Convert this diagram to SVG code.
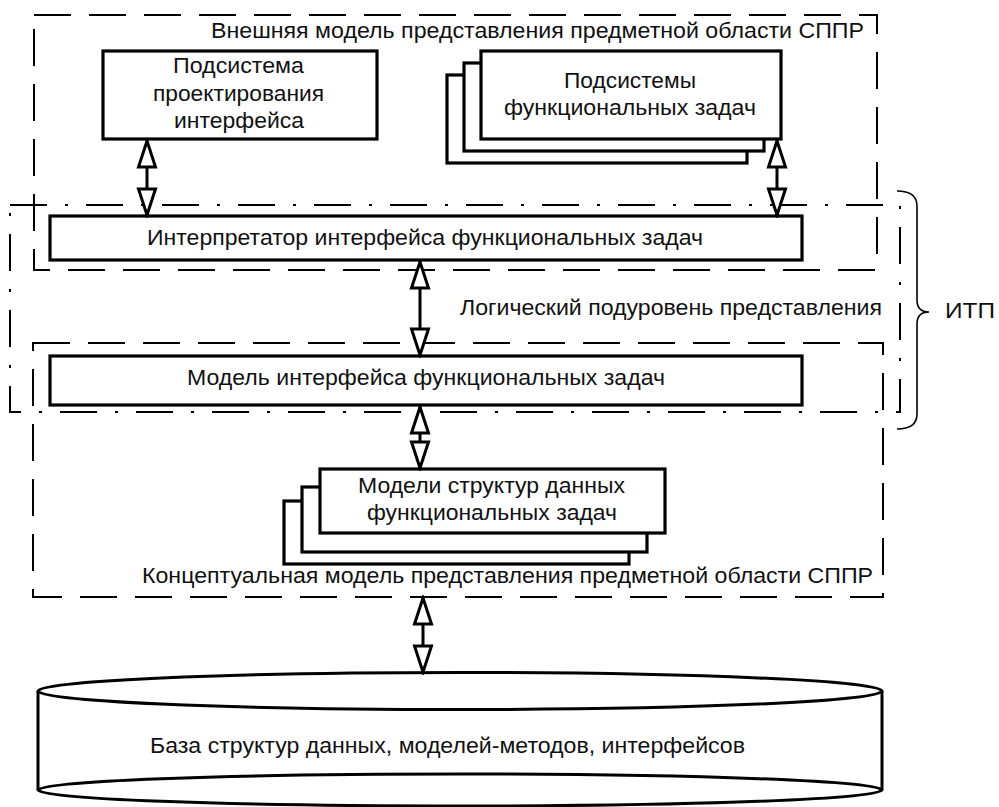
<svg xmlns="http://www.w3.org/2000/svg" width="999" height="807" viewBox="0 0 999 807">
  <style>
    .bg { fill: #ffffff; }
    .frame { fill: none; stroke: #000; stroke-width: 2; stroke-dasharray: 37 18; }
    .frame-dd { fill: none; stroke: #000; stroke-width: 2; stroke-dasharray: 37 18 3 18; }
    .box { fill: #ffffff; stroke: #000; stroke-width: 3.2; }
    .link { stroke: #000; stroke-width: 3; fill: none; marker-start: url(#hollow); marker-end: url(#hollow); }
    .brace { fill: none; stroke: #000; stroke-width: 1.6; }
    text { font-family: "Liberation Sans", Arial, sans-serif; font-size: 22px; fill: #111; }
    .c { text-anchor: middle; }
    .e { text-anchor: end; }
  </style>
  <defs>
    <marker id="hollow" viewBox="-3 -12 32 24" refX="26" refY="0" markerWidth="32" markerHeight="24" markerUnits="userSpaceOnUse" orient="auto-start-reverse">
      <path d="M0,-8.5 L26,0 L0,8.5 Z" fill="#fff" stroke="#000" stroke-width="3" stroke-linejoin="miter"/>
    </marker>
  </defs>

  <rect class="bg" x="0" y="0" width="999" height="807"/>

  <!-- region frames -->
  <g id="frames">
    <rect id="external-model" class="frame" x="34" y="15" width="843" height="255"/>
    <rect id="logical-sublevel" class="frame-dd" x="10" y="205" width="890" height="207"/>
    <rect id="conceptual-model" class="frame" x="33" y="343" width="850" height="254"/>
    <text x="211" y="38" textLength="653" lengthAdjust="spacingAndGlyphs">Внешняя модель представления предметной области СППР</text>
    <text x="460" y="315" textLength="422" lengthAdjust="spacingAndGlyphs">Логический подуровень представления</text>
    <text x="142" y="583" textLength="731" lengthAdjust="spacingAndGlyphs">Концептуальная модель представления предметной области СППР</text>
  </g>

  <!-- ITP brace -->
  <g id="itp">
    <path class="brace" d="M897,191 Q917,191 917,206 L917,300 Q917,312 929,312 Q917,312 917,324 L917,414 Q917,429 897,429"/>
    <text x="945" y="318" textLength="50" lengthAdjust="spacingAndGlyphs">ИТП</text>
  </g>

  <g id="interface-design">
    <rect class="box" x="103" y="51" width="274" height="88"/>
    <text x="173" y="73" textLength="131" lengthAdjust="spacingAndGlyphs">Подсистема</text>
    <text x="153" y="101" textLength="171" lengthAdjust="spacingAndGlyphs">проектирования</text>
    <text x="174" y="128" textLength="130" lengthAdjust="spacingAndGlyphs">интерфейса</text>
  </g>

  <g id="functional-subsystems">
    <rect class="box" x="447" y="75" width="300" height="88"/>
    <rect class="box" x="464" y="63" width="300" height="88"/>
    <rect class="box" x="481" y="51" width="300" height="88"/>
    <text x="564" y="88" textLength="132" lengthAdjust="spacingAndGlyphs">Подсистемы</text>
    <text x="504" y="115" textLength="252" lengthAdjust="spacingAndGlyphs">функциональных задач</text>
  </g>

  <g id="interpreter">
    <rect class="box" x="50" y="216" width="752" height="44"/>
    <text x="147" y="245" textLength="556" lengthAdjust="spacingAndGlyphs">Интерпретатор интерфейса функциональных задач</text>
  </g>

  <g id="interface-model">
    <rect class="box" x="50" y="356" width="752" height="49"/>
    <text x="187" y="385" textLength="478" lengthAdjust="spacingAndGlyphs">Модель интерфейса функциональных задач</text>
  </g>

  <g id="data-structure-models">
    <rect class="box" x="284" y="501" width="345" height="63"/>
    <rect class="box" x="302" y="487" width="345" height="65"/>
    <rect class="box" x="320" y="469" width="345" height="64"/>
    <text x="358" y="493" textLength="267" lengthAdjust="spacingAndGlyphs">Модели структур данных</text>
    <text x="367" y="520" textLength="250" lengthAdjust="spacingAndGlyphs">функциональных задач</text>
  </g>

  <g id="repository">
    <path d="M38,691 L38,790 M882,691 L882,790" stroke="#000" stroke-width="3" fill="none"/>
    <ellipse cx="460" cy="790" rx="422" ry="16" fill="none" stroke="#000" stroke-width="3"/>
    <ellipse cx="460" cy="691" rx="422" ry="18.5" fill="#fff" stroke="#000" stroke-width="3"/>
    <text x="150" y="753" textLength="595" lengthAdjust="spacingAndGlyphs">База структур данных, моделей-методов, интерфейсов</text>
  </g>

  <!-- connectors -->
  <g id="connectors">
    <line class="link" x1="147" y1="141" x2="147" y2="215"/>
    <line class="link" x1="777" y1="141" x2="777" y2="215"/>
    <line class="link" x1="420" y1="262" x2="420" y2="355"/>
    <line class="link" x1="420" y1="407" x2="420" y2="468"/>
    <line class="link" x1="423" y1="598" x2="423" y2="672"/>
  </g>
</svg>
